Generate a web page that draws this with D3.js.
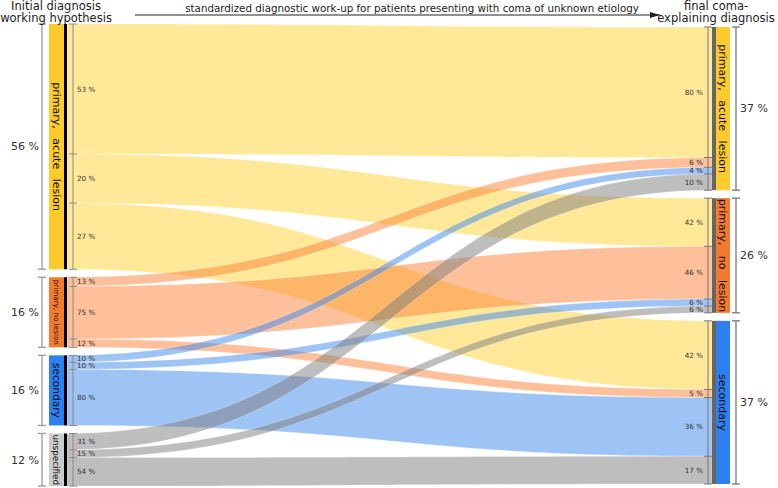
<!DOCTYPE html>
<html><head><meta charset="utf-8">
<script src="https://cdn.jsdelivr.net/npm/d3@7"></script>
<style>body{margin:0;background:#fff}svg{display:block;font-family:"DejaVu Sans",sans-serif}</style>
</head><body><svg id="c" width="778" height="488"></svg>
<script>
// ---- data ----
const sources = ["primary, acute lesion", "primary, no lesion", "secondary", "unspecified"];
const sourcePct = [56, 16, 16, 12];
const targets = ["primary, acute lesion", "primary, no lesion", "secondary"];
const targetPct = [37, 26, 37];
// share of each source going to each target (% of source)
const sourceShares = [[53, 20, 27], [13, 75, 12], [10, 10, 80], [31, 15, 54]];
// composition of each target by source (% of target)
const targetShares = [[80, 6, 4, 10], [42, 46, 6, 6], [42, 5, 36, 17]];

// ---- styles ----
const nodeColors = ["#FDCB2B", "#F47A2F", "#2E7FF0", "#CCCCCC"];
const ribbonColors = ["#FFD333", "#FB8135", "#3D87EB", "#7D7D7D"];

const svg = d3.select("#c");
const yL = d3.scaleLinear().domain([0, 100]).range([0, 438]);
const yR = d3.scaleLinear().domain([0, 100]).range([0, 441]);
const gap = 8;

function stack(pcts, y0, scale) {
  let y = y0; return pcts.map(p => { const h = scale(p); const o = {y0: y, y1: y + h}; y += h + gap; return o; });
}
const L = stack(sourcePct, 24, yL);
const R = stack(targetPct, 27, yR);

function sub(node, shares) {
  let y = node.y0; const h = node.y1 - node.y0;
  return shares.map(s => { const o = {y0: y, y1: y + h * s / 100}; y = o.y1; return o; });
}
const Lsub = L.map((n, i) => sub(n, sourceShares[i]));
const Rsub = R.map((n, j) => sub(n, targetShares[j]));

const x0 = 67, x1 = 712, xm = (x0 + x1) / 2;
const flows = [];
sources.forEach((s, i) => targets.forEach((t, j) => flows.push({i, j, a: Lsub[i][j], b: Rsub[j][i]})));

svg.append("g").selectAll("path").data(flows).join("path")
  .attr("d", f => { const p = d3.path();
    p.moveTo(x0, f.a.y0); p.bezierCurveTo(xm, f.a.y0, xm, f.b.y0, x1, f.b.y0);
    p.lineTo(x1, f.b.y1); p.bezierCurveTo(xm, f.b.y1, xm, f.a.y1, x0, f.a.y1); p.closePath(); return p.toString(); })
  .attr("fill", f => ribbonColors[f.i]).attr("fill-opacity", 0.5)
  .attr("stroke", "#fff").attr("stroke-width", 0.5).attr("stroke-opacity", 0.5);

// left nodes
const gl = svg.append("g");
L.forEach((n, i) => {
  gl.append("rect").attr("x", 49).attr("y", n.y0).attr("width", 15).attr("height", n.y1 - n.y0).attr("fill", nodeColors[i]);
  gl.append("rect").attr("x", 64).attr("y", n.y0).attr("width", 3).attr("height", n.y1 - n.y0).attr("fill", "#000");
});
// right nodes
const gr = svg.append("g");
R.forEach((n, j) => {
  gr.append("rect").attr("x", 716).attr("y", n.y0).attr("width", 14).attr("height", n.y1 - n.y0).attr("fill", nodeColors[j]);
  gr.append("rect").attr("x", 712).attr("y", n.y0).attr("width", 4).attr("height", n.y1 - n.y0).attr("fill", "#666");
});

function bracket(g, x, ys, color, w) {
  g.append("line").attr("x1", x).attr("x2", x).attr("y1", ys[0]).attr("y2", ys[ys.length - 1]).attr("stroke", color).attr("stroke-width", w);
  ys.forEach(y => g.append("line").attr("x1", x - 4).attr("x2", x + 4).attr("y1", y).attr("y2", y).attr("stroke", color).attr("stroke-width", w));
}
const gb = svg.append("g");
L.forEach((n, i) => {
  bracket(gb, 42, [n.y0, n.y1], "#999", 1.3);
  bracket(gb, 73, [n.y0, ...Lsub[i].map(s => s.y1)], "#8a8a8a", 1);
  gb.append("text").attr("x", 25).attr("y", (n.y0 + n.y1) / 2).attr("dy", "0.35em").attr("text-anchor", "middle")
    .attr("font-size", 11).attr("fill", "#333").text(sourcePct[i] + " %");
  Lsub[i].forEach((s, j) => gb.append("text").attr("x", 77).attr("y", (s.y0 + s.y1) / 2).attr("dy", "0.35em")
    .attr("font-size", 7.2).attr("fill", "#333").text(sourceShares[i][j] + " %"));
});
R.forEach((n, j) => {
  bracket(gb, 736, [n.y0, n.y1], "#777", 1.3);
  bracket(gb, 708, [n.y0, ...Rsub[j].map(s => s.y1)], "#777", 1);
  gb.append("text").attr("x", 740).attr("y", (n.y0 + n.y1) / 2).attr("dy", "0.35em")
    .attr("font-size", 11).attr("fill", "#333").text(targetPct[j] + " %");
  Rsub[j].forEach((s, i) => gb.append("text").attr("x", 703).attr("y", (s.y0 + s.y1) / 2).attr("dy", "0.35em").attr("text-anchor", "end")
    .attr("font-size", 7.2).attr("fill", "#333").text(targetShares[j][i] + " %"));
});

// node labels (rotated)
const leftLabelSize = [11, 7.2, 10.6, 8.8];
const leftWordSp = [6, 0, 0, 0];
L.forEach((n, i) => {
  const cy = (n.y0 + n.y1) / 2;
  svg.append("text").attr("transform", `translate(56.5,${cy}) rotate(90)`).attr("text-anchor", "middle").attr("dy", "0.35em")
    .attr("font-size", leftLabelSize[i]).style("word-spacing", leftWordSp[i] + "px").attr("fill", "#111").text(sources[i]);
});
const rightWordSp = [6, 7, 0];
R.forEach((n, j) => {
  const cy = (n.y0 + n.y1) / 2;
  svg.append("text").attr("transform", `translate(723,${cy}) rotate(90)`).attr("text-anchor", "middle").attr("dy", "0.35em")
    .attr("font-size", 11).style("word-spacing", rightWordSp[j] + "px").attr("fill", "#111").text(targets[j]);
});

// headers
const hdr = svg.append("g").attr("font-size", 11.5).attr("fill", "#222").attr("text-anchor", "middle");
hdr.append("text").attr("x", 56).attr("y", 9.5).text("Initial diagnosis");
hdr.append("text").attr("x", 56).attr("y", 22).text("working hypothesis");
hdr.append("text").attr("x", 716).attr("y", 9.5).text("final coma-");
hdr.append("text").attr("x", 716).attr("y", 22).text("explaining diagnosis");

svg.append("defs").append("marker").attr("id", "ah").attr("viewBox", "0 0 10 6").attr("refX", 10).attr("refY", 3)
  .attr("markerWidth", 10).attr("markerHeight", 6).attr("markerUnits", "userSpaceOnUse").attr("orient", "auto")
  .append("path").attr("d", "M0,0L10,3L0,6Z").attr("fill", "#222");
svg.append("line").attr("x1", 135).attr("x2", 660).attr("y1", 15).attr("y2", 15).attr("stroke", "#222").attr("stroke-width", 1)
  .attr("marker-end", "url(#ah)");
svg.append("text").attr("x", 412).attr("y", 11.5).attr("text-anchor", "middle").attr("font-size", 10.3).attr("fill", "#222")
  .text("standardized diagnostic work-up for patients presenting with coma of unknown etiology");
</script></body></html>
